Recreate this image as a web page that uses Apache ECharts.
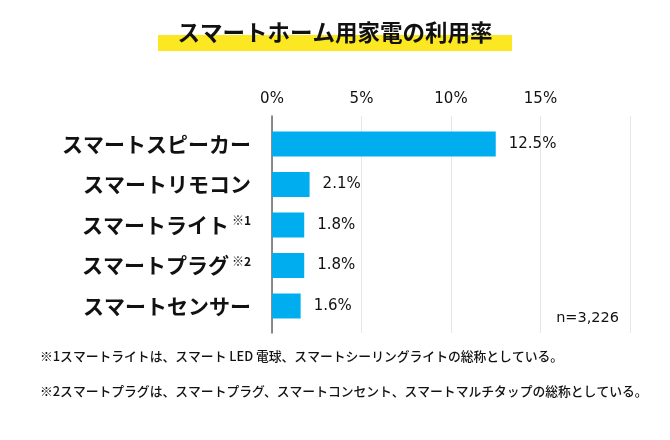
<!DOCTYPE html>
<html>
<head>
<meta charset="utf-8">
<script src="https://cdn.jsdelivr.net/npm/echarts@6/dist/echarts.min.js"></script>
<style>
  html, body { margin: 0; padding: 0; background: #ffffff; }
  #chart { width: 670px; height: 440px; }
</style>
</head>
<body>
<div id="chart"></div>
<script>
const titleText = 'スマートホーム用家電の利用率';
const categories = ['スマートスピーカー', 'スマートリモコン', 'スマートライト', 'スマートプラグ', 'スマートセンサー'];
const categoryNotes = ['', '', '※1', '※2', ''];
const values = [12.5, 2.1, 1.8, 1.8, 1.6];
const xTicks = [0, 5, 10, 15];
const axisMax = 20;
const sampleNote = 'n=3,226';
const footnotes = [
  '※1スマートライトは、スマート LED 電球、スマートシーリングライトの総称としている。',
  '※2スマートプラグは、スマートプラグ、スマートコンセント、スマートマルチタップの総称としている。'
];

const JP = "'Noto Sans CJK JP', 'Noto Sans', sans-serif";
const NUM = "'DejaVu Sans', 'Noto Sans', sans-serif";

const chart = echarts.init(document.getElementById('chart'));
chart.setOption({
  backgroundColor: '#ffffff',
  animation: false,
  title: [
    {
      text: titleText, left: 'center', top: 21, padding: 0, z: 10,
      textStyle: { fontFamily: JP, fontSize: 22.5, fontWeight: 'bold', color: '#111111' }
    },
    {
      text: sampleNote, right: 51, top: 311, padding: 0,
      textStyle: { fontFamily: NUM, fontSize: 14.5, fontWeight: 'normal', color: '#111111' }
    },
    {
      text: footnotes[0], left: 40, top: 350, padding: 0,
      textStyle: { fontFamily: JP, fontSize: 12.8, fontWeight: 500, color: '#111111' }
    },
    {
      text: footnotes[1], left: 40, top: 385, padding: 0,
      textStyle: { fontFamily: JP, fontSize: 12.8, fontWeight: 500, color: '#111111' }
    }
  ],
  graphic: [
    { type: 'rect', z: 0, shape: { x: 158, y: 35, width: 354, height: 16 }, style: { fill: '#fbe722' } }
  ],
  grid: [
    { left: 272, right: 40, top: 116, height: 217 },
    { left: 272, right: 40, top: 123.75, height: 202.5 }
  ],
  xAxis: [
    {
      gridIndex: 0, type: 'value', position: 'top', min: 0, max: axisMax, interval: 5,
      axisLine: { show: false }, axisTick: { show: false },
      splitLine: { show: true, lineStyle: { color: '#e2e8ee', width: 1 } },
      axisLabel: {
        margin: 9, fontFamily: NUM, fontSize: 15, color: '#111111',
        formatter: function (v) { return xTicks.indexOf(v) >= 0 ? v + '%' : ''; }
      }
    },
    { gridIndex: 1, type: 'value', min: 0, max: axisMax, show: false }
  ],
  yAxis: [
    {
      gridIndex: 0, type: 'value', min: 0, max: 1,
      axisLine: { show: true, lineStyle: { color: '#666666', width: 1.5 } },
      axisTick: { show: false }, axisLabel: { show: false }, splitLine: { show: false }
    },
    {
      gridIndex: 1, type: 'category', inverse: true, data: categories,
      axisLine: { show: false }, axisTick: { show: false }, splitLine: { show: false },
      axisLabel: {
        margin: 21,
        formatter: function (v, i) {
          return '{a|' + v + '}' + (categoryNotes[i] ? '{s|' + categoryNotes[i] + '}' : '');
        },
        rich: {
          a: { fontFamily: JP, fontSize: 21, fontWeight: 'bold', color: '#111111' },
          s: { fontFamily: JP, fontSize: 12, fontWeight: 'bold', color: '#111111', verticalAlign: 'top', padding: [0, 0, 0, 3] }
        }
      }
    }
  ],
  series: [
    {
      type: 'bar', xAxisIndex: 1, yAxisIndex: 1, data: values, barWidth: 25,
      itemStyle: { color: '#00aeef' },
      label: {
        show: true, position: 'right', distance: 13,
        fontFamily: NUM, fontSize: 15, color: '#111111',
        formatter: function (p) { return p.value + '%'; }
      }
    }
  ]
});
</script>
</body>
</html>
